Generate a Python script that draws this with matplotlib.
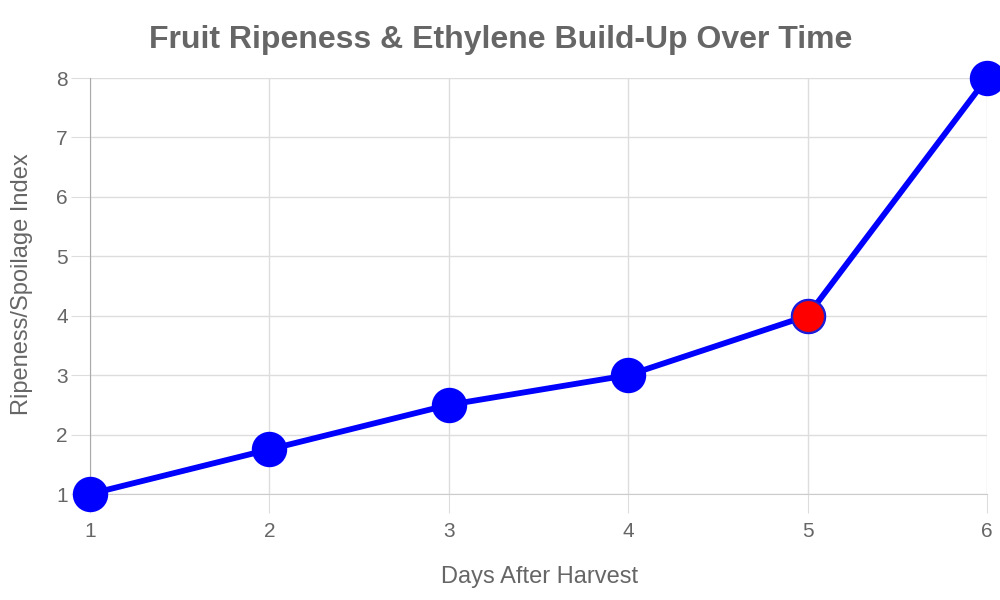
import matplotlib
matplotlib.use("Agg")
import matplotlib.pyplot as plt

days = [1, 2, 3, 4, 5, 6]
index_vals = [1, 1.75, 2.5, 3, 4, 8]
highlight_day = 5
highlight_val = 4
y_ticks = [1, 2, 3, 4, 5, 6, 7, 8]

plt.rcParams['font.family'] = ['Liberation Sans', 'DejaVu Sans']
gray = '#666666'

fig = plt.figure(figsize=(10, 6), dpi=100)
ax = fig.add_axes([0.09, 1 - 494/600, 0.897, (494 - 78)/600])

ax.plot(days, index_vals, color='#0000ff', lw=4.2, marker='o', markersize=24.5,
        markerfacecolor='#0000ff', markeredgecolor='#0000ff', clip_on=False, zorder=3)
ax.plot([highlight_day], [highlight_val], marker='o', markersize=23.5, color='#ff0000',
        markeredgecolor='#2222cc', markeredgewidth=1.3, clip_on=False, zorder=4, linestyle='none')

ax.set_xlim(1, 6)
ax.set_ylim(1, 8)
ax.set_xticks(days)
ax.set_yticks(y_ticks)
ax.grid(True, color='#dddddd', lw=1)
ax.set_axisbelow(True)
for s in ['top', 'right']:
    ax.spines[s].set_visible(False)
ax.spines['left'].set_color('#aaaaaa')
ax.spines['bottom'].set_color('#cccccc')
ax.tick_params(axis='both', length=14, color='#dddddd', labelsize=15, labelcolor=gray)
ax.tick_params(axis='x', pad=6)
ax.tick_params(axis='y', pad=2)

fig.text(540/1000, 1 - 577/600, 'Days After Harvest', ha='center', va='center',
         fontsize=17, color=gray)
fig.text(22/1000, 1 - 284/600, 'Ripeness/Spoilage Index', ha='center', va='center',
         rotation=90, fontsize=17, color=gray)
fig.text(0.501, 1 - 40/600, 'Fruit Ripeness & Ethylene Build-Up Over Time', ha='center', va='center',
         fontsize=23, fontweight='bold', color=gray)

fig.savefig('out.png', dpi=100)
